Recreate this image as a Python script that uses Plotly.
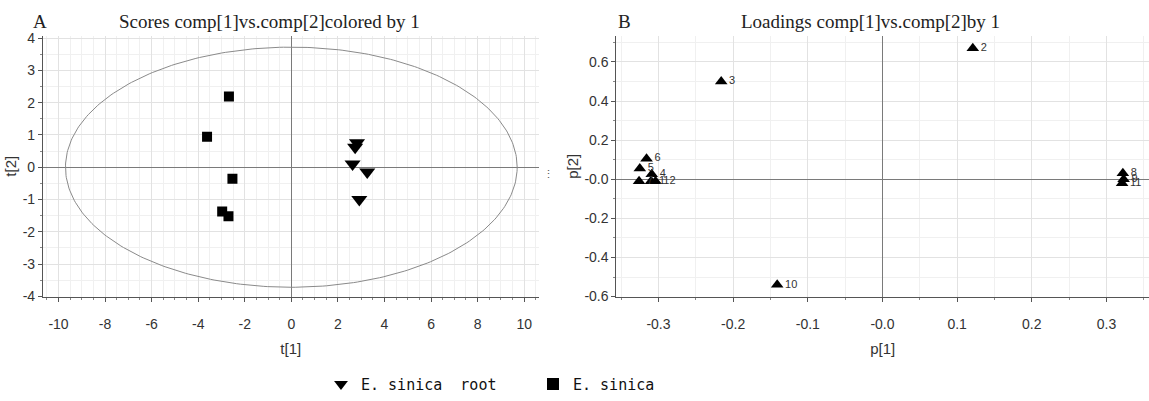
import numpy as np
import plotly.graph_objects as go

# ---------------- data ----------------
root_t1 = [2.82, 2.74, 2.63, 3.26, 2.92]
root_t2 = [0.76, 0.62, 0.10, -0.15, -1.00]
sinica_t1 = [-2.68, -3.62, -2.53, -2.97, -2.70]
sinica_t2 = [2.19, 0.94, -0.36, -1.37, -1.52]
ellipse_a = 9.70
ellipse_b = 3.72

load_labels = ["1", "2", "3", "4", "5", "6", "7", "8", "9", "10", "11", "12"]
load_p1 = [-0.310, 0.121, -0.216, -0.309, -0.325, -0.316, -0.326, 0.322, 0.323, -0.141, 0.321, -0.304]
load_p2 = [-0.010, 0.670, 0.500, 0.025, 0.055, 0.105, -0.010, 0.030, 0.000, -0.540, -0.020, -0.010]

score_x_ticks = [-10, -8, -6, -4, -2, 0, 2, 4, 6, 8, 10]
score_y_ticks = [-4, -3, -2, -1, 0, 1, 2, 3, 4]
load_x_ticks = [-0.3, -0.2, -0.1, 0.0, 0.1, 0.2, 0.3]
load_x_text = ["-0.3", "-0.2", "-0.1", "-0.0", "0.1", "0.2", "0.3"]
load_y_ticks = [-0.6, -0.4, -0.2, 0.0, 0.2, 0.4, 0.6]
load_y_text = ["-0.6", "-0.4", "-0.2", "-0.0", "0.2", "0.4", "0.6"]

W, H = 1149, 401
SANS = "Liberation Sans Narrow, Arial Narrow, Liberation Sans, Arial"
TICKFONT = dict(family=SANS, size=14, color="#333333")
SERIF = dict(family="Liberation Serif, Times New Roman, serif", size=19, color="#222222")
AXTITLE = dict(family=SANS, size=15, color="#333333")

fig = go.Figure()

# Hotelling ellipse
th = np.linspace(0, 2 * np.pi, 361)
fig.add_trace(go.Scatter(x=ellipse_a * np.cos(th), y=ellipse_b * np.sin(th), mode="lines",
                         line=dict(color="#8a8a8a", width=1), showlegend=False, hoverinfo="skip",
                         xaxis="x", yaxis="y"))
fig.add_trace(go.Scatter(x=root_t1, y=root_t2, mode="markers", name="E. sinica  root",
                         marker=dict(symbol="triangle-down", size=14, color="black"),
                         xaxis="x", yaxis="y"))
fig.add_trace(go.Scatter(x=sinica_t1, y=sinica_t2, mode="markers", name="E. sinica",
                         marker=dict(symbol="square", size=10, color="black"),
                         xaxis="x", yaxis="y"))

fig.add_trace(go.Scatter(x=load_p1, y=load_p2, mode="markers+text", text=load_labels,
                         textposition="middle right",
                         textfont=dict(family=SANS, size=11, color="#333333"),
                         marker=dict(symbol="triangle-up", size=11, color="black"),
                         showlegend=False, xaxis="x2", yaxis="y2"))

ydom = [(H - 303.3) / H, (H - 31.7) / H]

def ax(rng, tickvals, ticktext, minor_dtick, dom, anchor, standoff):
    return dict(range=rng, domain=dom, anchor=anchor, tickvals=tickvals, ticktext=ticktext,
                showline=True, linecolor="#555555", linewidth=1, mirror=False,
                ticks="outside", ticklen=4, tickcolor="#555555", tickfont=TICKFONT,
                ticklabelstandoff=standoff,
                showgrid=True, gridcolor="#e2e2e2", gridwidth=1,
                zeroline=True, zerolinecolor="#7a7a7a", zerolinewidth=1,
                minor=dict(dtick=minor_dtick, showgrid=True, gridcolor="#f0f0f0",
                           ticks="outside", ticklen=2, tickcolor="#888888"),
                fixedrange=True)

xa = ax([-10.67, 10.62], score_x_ticks, [str(v) for v in score_x_ticks], 0.5,
        [42.9 / W, 538.6 / W], "y", 10)
ya = ax([-4.02, 4.08], score_y_ticks, [str(v) for v in score_y_ticks], 0.5, ydom, "x", 0)
xa2 = ax([-0.3565, 0.357], load_x_ticks, load_x_text, 0.05, [616.3 / W, 1.0], "y2", 10)
ya2 = ax([-0.602, 0.735], load_y_ticks, load_y_text, 0.1, ydom, "x2", 0)
xa["title"] = dict(text="t[1]", font=AXTITLE, standoff=12)
ya["title"] = dict(text="t[2]", font=AXTITLE, standoff=2)
xa2["title"] = dict(text="p[1]", font=AXTITLE, standoff=12)
ya2["title"] = dict(text="p[2]", font=AXTITLE, standoff=2)

fig.update_layout(
    width=W, height=H, margin=dict(l=0, r=0, t=0, b=0),
    paper_bgcolor="white", plot_bgcolor="white",
    xaxis=xa, yaxis=ya, xaxis2=xa2, yaxis2=ya2,
    showlegend=True,
    legend=dict(orientation="h", x=321 / W, y=(H - 394) / H, xanchor="left", yanchor="middle",
                font=dict(family="DejaVu Sans Mono, monospace", size=15, color="#111111"),
                entrywidth=167, entrywidthmode="pixels", itemsizing="constant",
                bgcolor="rgba(0,0,0,0)"),
    annotations=[
        dict(text="A", x=40 / W, y=(H - 17) / H, xref="paper", yref="paper", showarrow=False,
             xanchor="center", yanchor="middle", font=SERIF),
        dict(text="Scores comp[1]vs.comp[2]colored by 1", x=269 / W, y=(H - 17) / H,
             xref="paper", yref="paper", showarrow=False, xanchor="center", yanchor="middle", font=SERIF),
        dict(text="B", x=624 / W, y=(H - 17) / H, xref="paper", yref="paper", showarrow=False,
             xanchor="center", yanchor="middle", font=SERIF),
        dict(text="Loadings comp[1]vs.comp[2]by 1", x=870 / W, y=(H - 17) / H,
             xref="paper", yref="paper", showarrow=False, xanchor="center", yanchor="middle", font=SERIF),
        dict(text="⋮", x=548 / W, y=(H - 175) / H, xref="paper", yref="paper", showarrow=False,
             xanchor="center", yanchor="middle", font=dict(size=11, color="#555555")),
    ],
)

fig.write_html("out.html")
